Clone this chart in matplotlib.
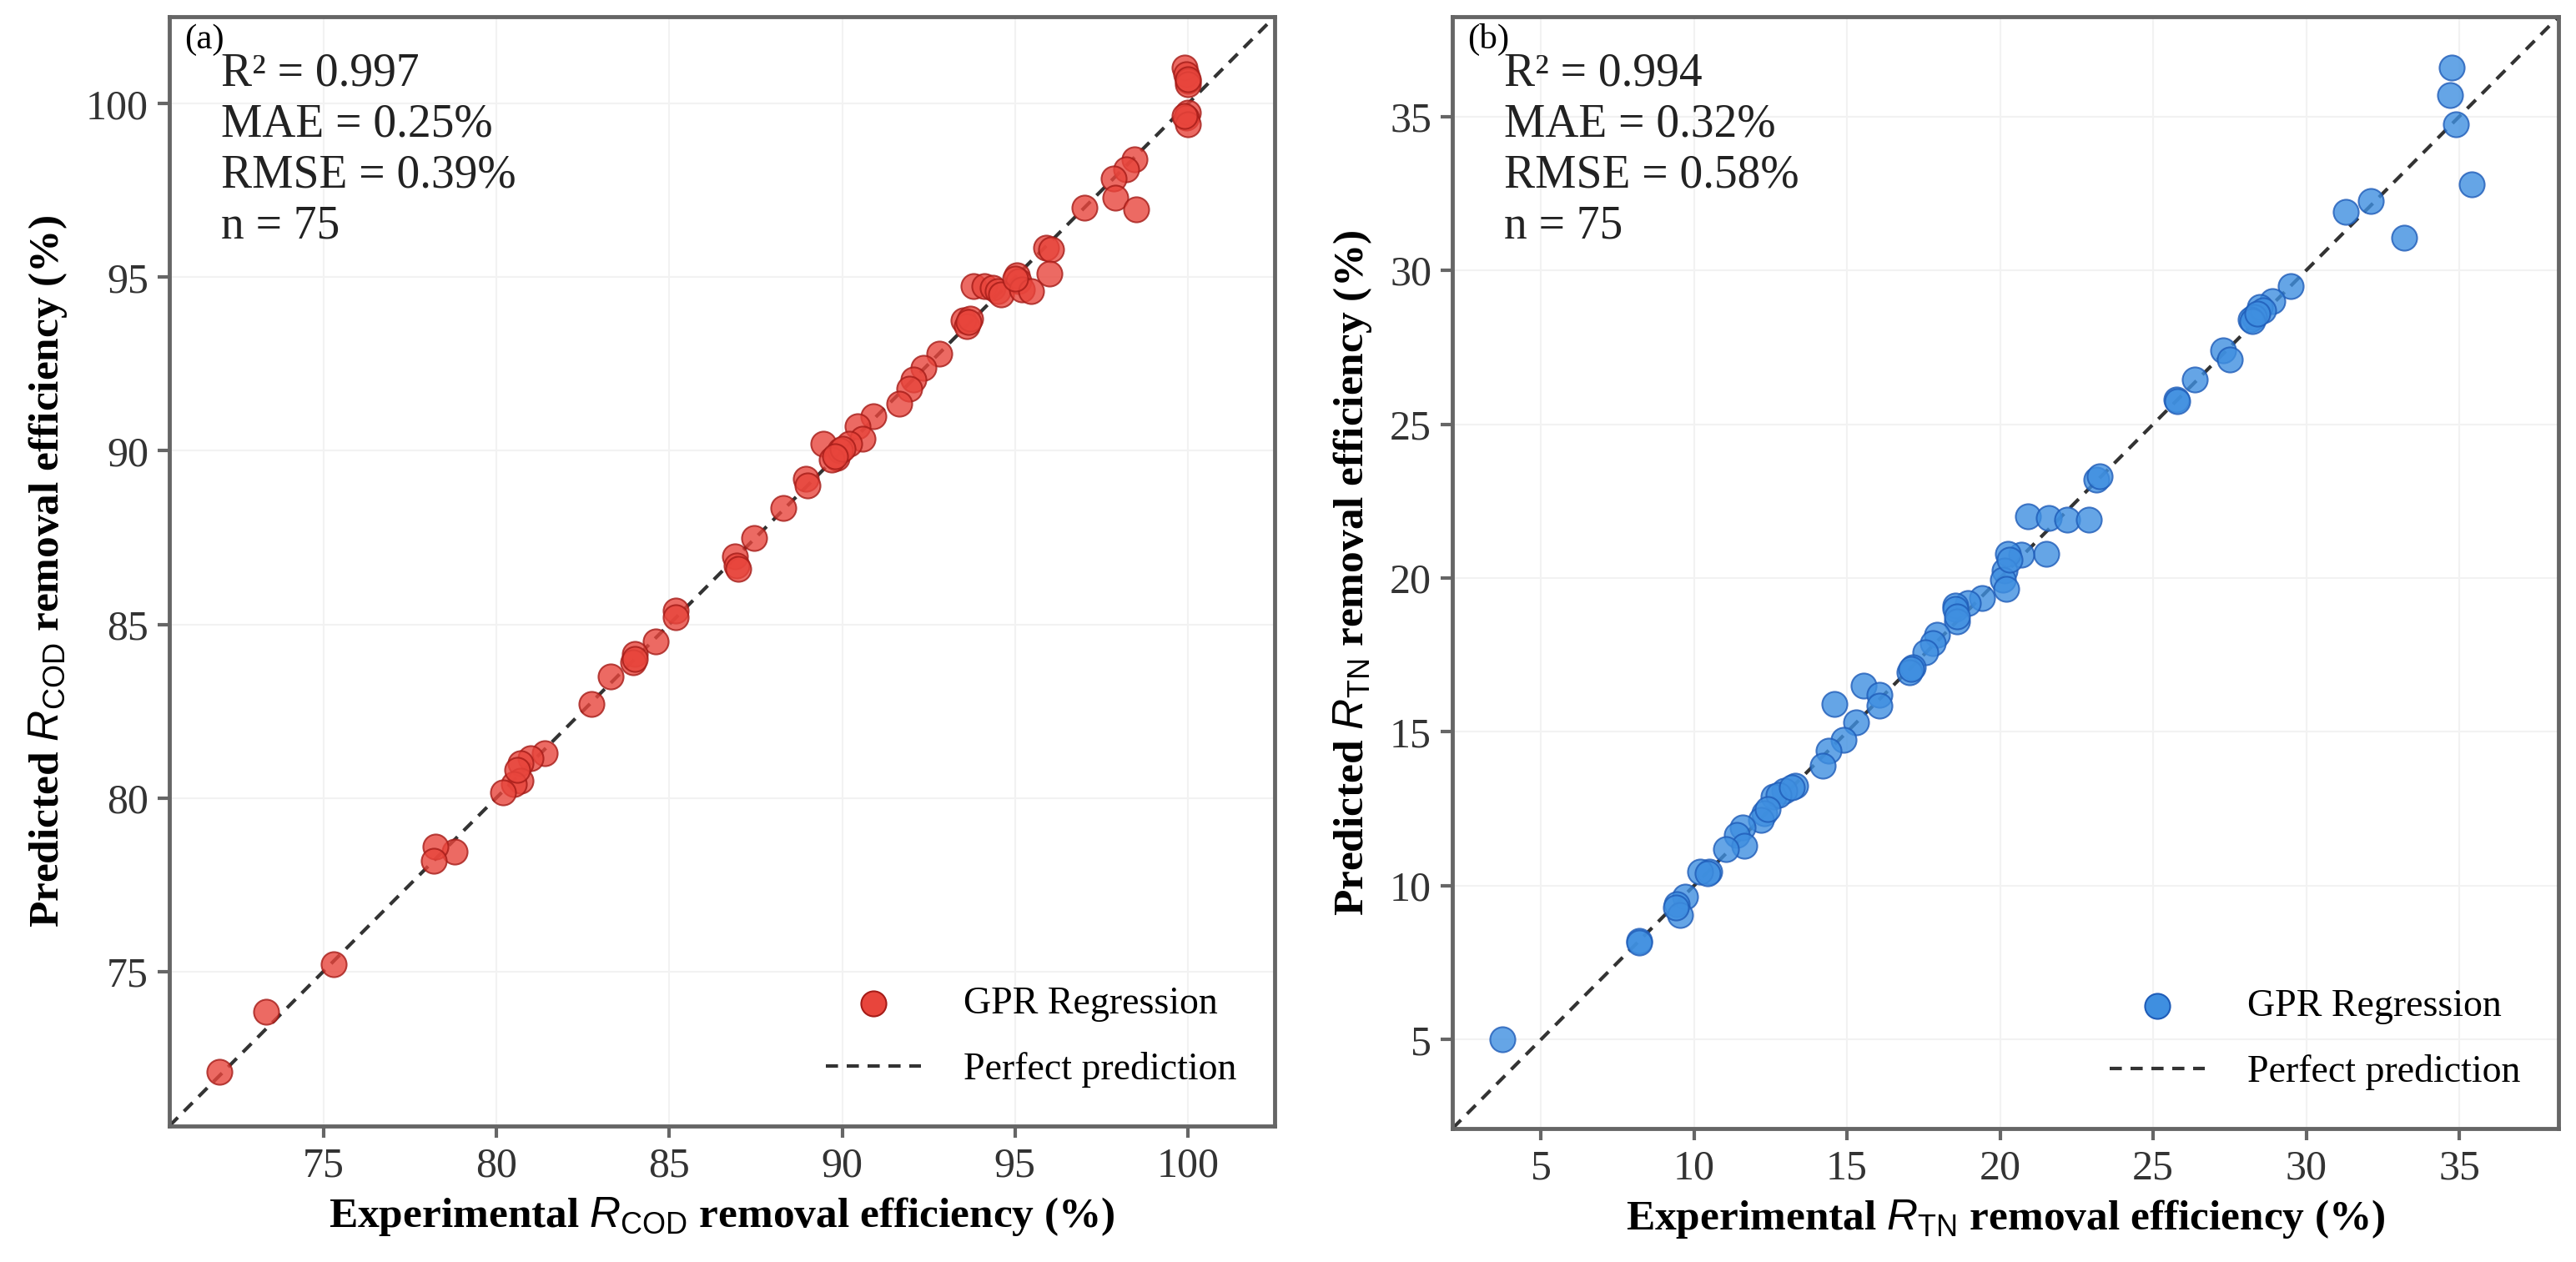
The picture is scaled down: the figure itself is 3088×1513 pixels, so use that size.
import matplotlib
matplotlib.use('Agg')
import matplotlib.pyplot as plt
import numpy as np

# panel (a): COD removal, experimental vs predicted
cod_exp = [99.9, 99.95, 100.0, 100.0, 100.0, 99.95, 100.0, 98.45, 98.2, 97.85,
           97.9, 98.5, 97.0, 95.9, 96.05, 96.0, 95.05, 95.1, 93.8, 94.1,
           94.35, 94.5, 94.6, 95.2, 95.45, 93.5, 93.6, 93.7, 92.8, 92.35,
           92.05, 91.95, 91.65, 90.9, 90.45, 90.6, 90.2, 89.45, 89.85, 89.95,
           89.7, 88.95, 89.0, 88.3, 87.45, 86.9, 86.95, 87.0, 85.2, 85.2,
           84.6, 84.0, 83.95, 83.3, 82.75, 81.4, 81.0, 80.7, 80.7, 80.5,
           80.2, 78.8, 78.25, 78.2, 75.3, 73.35, 72.0, 100.0, 99.9, 93.65,
           95.0, 90.0, 84.0, 80.6, 89.8]
cod_pred = [101.05, 100.85, 100.65, 100.55, 99.75, 99.6, 99.4, 98.4, 98.1, 97.85,
            97.3, 96.95, 97.0, 95.85, 95.8, 95.1, 95.05, 94.9, 94.75, 94.75,
            94.7, 94.6, 94.5, 94.65, 94.6, 93.75, 93.6, 93.8, 92.8, 92.4,
            92.05, 91.8, 91.35, 91.0, 90.7, 90.35, 90.2, 90.2, 89.8, 90.0,
            89.75, 89.2, 89.0, 88.35, 87.5, 86.95, 86.7, 86.6, 85.4, 85.2,
            84.5, 84.15, 83.9, 83.5, 82.7, 81.3, 81.15, 81.0, 80.5, 80.4,
            80.15, 78.45, 78.6, 78.2, 75.2, 73.85, 72.1, 100.7, 99.65, 93.7,
            94.95, 90.05, 84.0, 80.8, 89.85]

# panel (b): TN removal, experimental vs predicted
tn_exp = [34.75, 34.7, 34.9, 35.4, 32.1, 31.3, 33.2, 29.5, 28.9, 28.5,
          28.6, 28.3, 28.2, 28.25, 27.3, 27.5, 26.35, 25.75, 25.8, 23.15,
          23.25, 20.9, 21.6, 22.2, 22.9, 21.5, 20.7, 20.25, 20.15, 20.1,
          20.2, 19.4, 18.95, 18.55, 18.55, 18.6, 17.95, 17.8, 17.55, 17.15,
          17.05, 15.55, 16.05, 16.05, 14.6, 15.3, 14.9, 14.4, 14.2, 13.3,
          12.95, 12.6, 12.75, 12.3, 12.2, 11.6, 11.4, 11.65, 11.05, 10.5,
          10.2, 9.7, 9.45, 9.55, 9.4, 8.2, 8.2, 3.75, 20.3, 12.4,
          28.4, 17.1, 10.45, 13.2, 18.6]
tn_pred = [36.6, 35.7, 34.75, 32.8, 32.25, 31.9, 31.05, 29.5, 29.0, 28.8,
           28.7, 28.5, 28.4, 28.35, 27.4, 27.1, 26.45, 25.8, 25.75, 23.2,
           23.3, 22.0, 21.95, 21.9, 21.9, 20.8, 20.75, 20.8, 20.25, 19.95,
           19.65, 19.35, 19.2, 19.1, 19.0, 18.6, 18.15, 17.9, 17.6, 17.1,
           16.95, 16.5, 16.2, 15.85, 15.9, 15.3, 14.75, 14.4, 13.9, 13.25,
           13.1, 12.9, 12.95, 12.35, 12.15, 11.9, 11.65, 11.3, 11.2, 10.45,
           10.45, 9.65, 9.4, 9.05, 9.3, 8.2, 8.15, 5.0, 20.6, 12.5,
           28.6, 17.05, 10.4, 13.2, 18.75]

stats_a = ["R\u00b2 = 0.997", "MAE = 0.25%", "RMSE = 0.39%", "n = 75"]
stats_b = ["R\u00b2 = 0.994", "MAE = 0.32%", "RMSE = 0.58%", "n = 75"]

plt.rcParams['font.family'] = ['Liberation Serif', 'DejaVu Serif']
plt.rcParams['mathtext.fontset'] = 'custom'
plt.rcParams['mathtext.rm'] = 'Liberation Sans'
plt.rcParams['mathtext.it'] = 'Liberation Sans:italic'

fig = plt.figure(figsize=(30.88, 15.13), dpi=100)
ax_a = fig.add_axes([0.0657, 0.1077, 0.4291, 0.879])
ax_b = fig.add_axes([0.5638, 0.1057, 0.4294, 0.881])


def draw_panel(ax, x, y, fill, edge, tag, stats, xlabel, ylabel, ticks):
    lo = min(min(x), min(y))
    hi = max(max(x), max(y))
    pad = 0.05 * (hi - lo)
    lims = (lo - pad, hi + pad)

    ax.grid(True, color='#f2f2f2', linewidth=1.5, zorder=0)
    ax.scatter(x, y, s=470, color=fill, alpha=0.8, edgecolors=edge,
               linewidths=1.5, zorder=3, label='GPR Regression')
    ax.plot(lims, lims, linestyle=(0, (3.5, 2.5)), color='#333333',
            linewidth=3, zorder=2, label='Perfect prediction')
    ax.set_xlim(lims)
    ax.set_ylim(lims)
    ax.set_xticks(ticks)
    ax.set_yticks(ticks)

    for sp in ax.spines.values():
        sp.set_color('#666666')
        sp.set_linewidth(3.5)
    ax.tick_params(axis='both', direction='out', length=10, width=3,
                   color='#666666', labelsize=36, labelcolor='#333333', pad=8)

    ax.set_xlabel(xlabel, fontsize=37, fontweight='bold', labelpad=8)
    ax.set_ylabel(ylabel, fontsize=37, fontweight='bold', labelpad=14)

    ax.text(0.014, 0.994, tag, transform=ax.transAxes, fontsize=31,
            va='top', ha='left')
    ax.text(0.047, 0.968, "\n".join(stats), transform=ax.transAxes,
            fontsize=40, va='top', ha='left', linespacing=1.22,
            color='#222222')

    leg = ax.legend(loc='lower right', frameon=False, fontsize=33,
                    handlelength=2.5, handletextpad=1.1, labelspacing=0.8,
                    borderaxespad=0.6, markerscale=1.0)
    for h in leg.legend_handles:
        if hasattr(h, 'set_alpha'):
            h.set_alpha(1.0)


draw_panel(ax_a, cod_exp, cod_pred, '#e8453c', '#a51c18', '(a)', stats_a,
           r'Experimental $\mathit{R}_{\mathrm{COD}}$ removal efficiency (%)',
           r'Predicted $\mathit{R}_{\mathrm{COD}}$ removal efficiency (%)',
           [75, 80, 85, 90, 95, 100])
draw_panel(ax_b, tn_exp, tn_pred, '#3f8fe0', '#1f5cb8', '(b)', stats_b,
           r'Experimental $\mathit{R}_{\mathrm{TN}}$ removal efficiency (%)',
           r'Predicted $\mathit{R}_{\mathrm{TN}}$ removal efficiency (%)',
           [5, 10, 15, 20, 25, 30, 35])

fig.savefig('out.png', dpi=100)
plt.close(fig)
